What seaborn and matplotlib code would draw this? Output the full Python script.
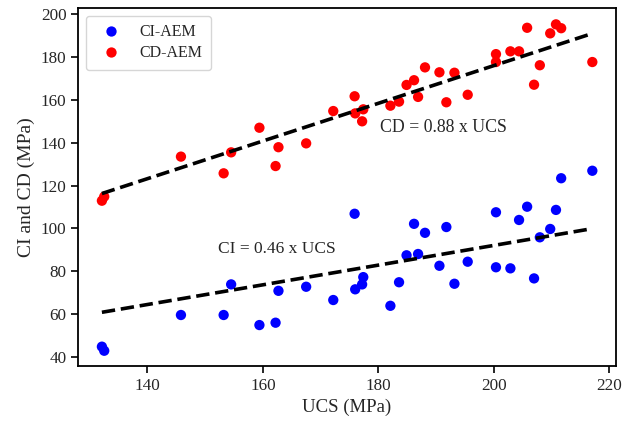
import numpy as np
import pandas as pd
import matplotlib
matplotlib.use("Agg")
import matplotlib.pyplot as plt
import seaborn as sns

ucs = [132.1, 132.5, 145.8, 153.2, 154.5, 159.4, 162.2, 162.7, 167.5, 172.2,
       175.9, 176.0, 177.2, 177.4, 182.1, 183.6, 184.9, 186.2, 186.9, 188.1,
       190.6, 191.8, 193.2, 195.5, 200.4, 200.4, 202.9, 204.4, 205.8, 207.0,
       208.0, 209.8, 210.8, 211.7, 217.1]
cd_aem = [112.9, 114.8, 133.5, 125.7, 135.5, 147.0, 129.1, 137.9, 139.7, 154.8,
          161.7, 153.7, 150.0, 155.6, 157.3, 159.2, 167.0, 169.2, 161.4, 175.2,
          172.9, 158.9, 172.7, 162.4, 181.4, 177.7, 182.7, 182.7, 193.7, 167.1,
          176.2, 191.1, 195.3, 193.5, 177.7]
ci_aem = [44.7, 42.8, 59.5, 59.5, 73.8, 54.8, 55.9, 70.8, 72.7, 66.5,
          106.8, 71.5, 73.8, 77.2, 63.8, 74.8, 87.4, 102.1, 88.0, 97.9,
          82.5, 100.6, 74.1, 84.4, 107.5, 81.8, 81.3, 103.9, 110.1, 76.6,
          95.8, 99.7, 108.6, 123.4, 126.9]
slope_ci = 0.46
slope_cd = 0.88
series = ["CI-AEM", "CD-AEM"]
colors = {"CI-AEM": "#0000ff", "CD-AEM": "#ff0000"}

df = pd.concat([
    pd.DataFrame({"UCS": ucs, "val": ci_aem, "series": "CI-AEM"}),
    pd.DataFrame({"UCS": ucs, "val": cd_aem, "series": "CD-AEM"}),
])

sns.set_style("ticks")
plt.rcParams["font.family"] = ["Liberation Serif", "DejaVu Serif"]
plt.rcParams["axes.edgecolor"] = "black"
plt.rcParams["axes.linewidth"] = 1.3

fig, ax = plt.subplots(figsize=(6.26, 4.26), dpi=100)
fig.subplots_adjust(left=0.125, right=0.984, top=0.982, bottom=0.1415)

sns.scatterplot(data=df, x="UCS", y="val", hue="series", hue_order=series,
                palette=colors, s=55, edgecolor="none", linewidth=0, ax=ax)

xfit = np.array([min(ucs), max(ucs)])
ax.plot(xfit, slope_cd * xfit, ls="--", color="black", lw=2.6, label="_nolegend_")
ax.plot(xfit, slope_ci * xfit, ls="--", color="black", lw=2.6, label="_nolegend_")

ax.text(180.3, 147, "CD = 0.88 x UCS", fontsize=12.8, va="center", ha="left")
ax.text(152.3, 90.2, "CI = 0.46 x UCS", fontsize=12.5, va="center", ha="left")

ax.set_xlim(128, 221.2)
ax.set_ylim(35.8, 203.1)
ax.set_xticks([140, 160, 180, 200, 220])
ax.set_yticks([40, 60, 80, 100, 120, 140, 160, 180, 200])
ax.set_xlabel("UCS (MPa)", fontsize=13.5)
ax.set_ylabel("CI and CD (MPa)", fontsize=14)
ax.tick_params(axis="both", labelsize=12.3, length=5, width=1.2, color="black", direction="out")

leg = ax.legend(loc="upper left", fontsize=11.5, frameon=True, handletextpad=0.75,
                borderpad=0.55, labelspacing=0.3, markerscale=1.0)
leg.get_frame().set_edgecolor("#cccccc")

fig.savefig("out.png", dpi=100)
